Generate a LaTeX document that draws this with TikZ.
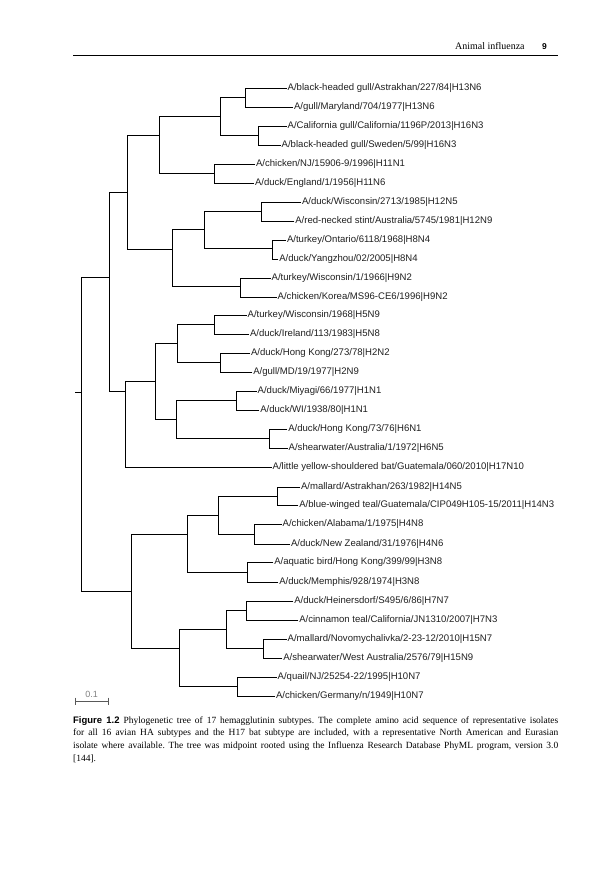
\documentclass[tikz,border=0pt]{standalone}
\usepackage{fontspec}
\setmainfont{Liberation Serif}
\setsansfont{Liberation Sans}
\frenchspacing
\begin{document}
\begin{tikzpicture}[x=1bp,y=-1bp,
  branch/.style={line width=0.85bp,black},
  leaf/.style={anchor=west,inner xsep=0.8bp,inner ysep=0pt,text height=7.4bp,text depth=2bp,
    font=\sffamily\fontsize{9.6}{11}\selectfont,text=black!88},
  capline/.style={anchor=base west,inner sep=0pt,font=\fontsize{9.5}{11}\selectfont}]
\useasboundingbox (0,0) rectangle (610,870);
% header
\node[anchor=base west,inner sep=0pt,font=\fontsize{10}{12}\selectfont] (hdr) at (455,49) {Animal influenza};
\node[anchor=base west,inner sep=0pt,font=\sffamily\fontsize{8.5}{12}\selectfont\bfseries] (pg) at (542,49) {9};
\coordinate (hl) at (73,55); \coordinate (hr) at (558,55);
\draw[line width=0.8bp] (hl) -- (hr);
% internal nodes
\coordinate (n12) at (245.3,97.5);
\coordinate (n34) at (258.7,135.5);
\coordinate (n1234) at (220,116.5);
\coordinate (n56) at (214.7,173.5);
\coordinate (nA) at (159.7,135.5);
\coordinate (n78) at (261.7,211);
\coordinate (n910) at (272.3,248.5);
\coordinate (nD) at (204.3,229.75);
\coordinate (nE) at (240,286.5);
\coordinate (nC) at (172.7,249);
\coordinate (nB) at (127.7,192);
\coordinate (n1314) at (214.3,324.5);
\coordinate (n1516) at (220,362.5);
\coordinate (nI) at (177.3,343.5);
\coordinate (n1718) at (236,400.5);
\coordinate (n1920) at (269.3,438.5);
\coordinate (nJ) at (176.3,419.5);
\coordinate (nH) at (155,381.5);
\coordinate (nG) at (125.3,391);
\coordinate (nF) at (109.3,277.5);
\coordinate (n2223) at (277.3,496);
\coordinate (n2425) at (254.3,534);
\coordinate (nN) at (218,515);
\coordinate (n2627) at (247.7,572);
\coordinate (nL) at (187.7,534.5);
\coordinate (n2829) at (246,610.5);
\coordinate (n3031) at (263.3,648.5);
\coordinate (nO) at (226,629.5);
\coordinate (n3233) at (237.7,686.5);
\coordinate (nM) at (179.3,648.5);
\coordinate (nK) at (131.7,591.5);
\coordinate (root) at (81.7,392);
\coordinate (rootstub) at (75,392);
% leaves
\node[leaf] (L1) at (286.7,88) {A/black-headed gull/Astrakhan/227/84|H13N6};
\node[leaf] (L2) at (293,107) {A/gull/Maryland/704/1977|H13N6};
\node[leaf] (L3) at (286.7,126) {A/California gull/California/1196P/2013|H16N3};
\node[leaf] (L4) at (280.7,145) {A/black-headed gull/Sweden/5/99|H16N3};
\node[leaf] (L5) at (255,164) {A/chicken/NJ/15906-9/1996|H11N1};
\node[leaf] (L6) at (254,183) {A/duck/England/1/1956|H11N6};
\node[leaf] (L7) at (301,202) {A/duck/Wisconsin/2713/1985|H12N5};
\node[leaf] (L8) at (294.3,221) {A/red-necked stint/Australia/5745/1981|H12N9};
\node[leaf] (L9) at (286,240) {A/turkey/Ontario/6118/1968|H8N4};
\node[leaf] (L10) at (278.3,259) {A/duck/Yangzhou/02/2005|H8N4};
\node[leaf] (L11) at (270.7,278) {A/turkey/Wisconsin/1/1966|H9N2};
\node[leaf] (L12) at (276.7,297) {A/chicken/Korea/MS96-CE6/1996|H9N2};
\node[leaf] (L13) at (246.7,315) {A/turkey/Wisconsin/1968|H5N9};
\node[leaf] (L14) at (249,334) {A/duck/Ireland/113/1983|H5N8};
\node[leaf] (L15) at (250,353) {A/duck/Hong Kong/273/78|H2N2};
\node[leaf] (L16) at (252.3,372) {A/gull/MD/19/1977|H2N9};
\node[leaf] (L17) at (256.7,391) {A/duck/Miyagi/66/1977|H1N1};
\node[leaf] (L18) at (259.3,410) {A/duck/WI/1938/80|H1N1};
\node[leaf] (L19) at (287.3,429) {A/duck/Hong Kong/73/76|H6N1};
\node[leaf] (L20) at (287.7,448) {A/shearwater/Australia/1/1972|H6N5};
\node[leaf] (L21) at (271.7,467) {A/little yellow-shouldered bat/Guatemala/060/2010|H17N10};
\node[leaf] (L22) at (300,487) {A/mallard/Astrakhan/263/1982|H14N5};
\node[leaf] (L23) at (298.3,505) {A/blue-winged teal/Guatemala/CIP049H105-15/2011|H14N3};
\node[leaf] (L24) at (281.7,524) {A/chicken/Alabama/1/1975|H4N8};
\node[leaf] (L25) at (290,544) {A/duck/New Zealand/31/1976|H4N6};
\node[leaf] (L26) at (273.3,562) {A/aquatic bird/Hong Kong/399/99|H3N8};
\node[leaf] (L27) at (278.3,582) {A/duck/Memphis/928/1974|H3N8};
\node[leaf] (L28) at (293.3,601) {A/duck/Heinersdorf/S495/6/86|H7N7};
\node[leaf] (L29) at (298.3,620) {A/cinnamon teal/California/JN1310/2007|H7N3};
\node[leaf] (L30) at (286.7,639) {A/mallard/Novomychalivka/2-23-12/2010|H15N7};
\node[leaf] (L31) at (282.3,658) {A/shearwater/West Australia/2576/79|H15N9};
\node[leaf] (L32) at (276.7,677) {A/quail/NJ/25254-22/1995|H10N7};
\node[leaf] (L33) at (275,696) {A/chicken/Germany/n/1949|H10N7};
% branches
\begin{scope}[branch]
\draw (L1.west) -| (n12); \draw (L2.west) -| (n12);
\draw (L3.west) -| (n34); \draw (L4.west) -| (n34);
\draw (L5.west) -| (n56); \draw (L6.west) -| (n56);
\draw (L7.west) -| (n78); \draw (L8.west) -| (n78);
\draw (L9.west) -| (n910); \draw (L10.west) -| (n910);
\draw (L11.west) -| (nE); \draw (L12.west) -| (nE);
\draw (L13.west) -| (n1314); \draw (L14.west) -| (n1314);
\draw (L15.west) -| (n1516); \draw (L16.west) -| (n1516);
\draw (L17.west) -| (n1718); \draw (L18.west) -| (n1718);
\draw (L19.west) -| (n1920); \draw (L20.west) -| (n1920);
\draw (L21.west) -| (nG);
\draw (L22.west) -| (n2223); \draw (L23.west) -| (n2223);
\draw (L24.west) -| (n2425); \draw (L25.west) -| (n2425);
\draw (L26.west) -| (n2627); \draw (L27.west) -| (n2627);
\draw (L28.west) -| (n2829); \draw (L29.west) -| (n2829);
\draw (L30.west) -| (n3031); \draw (L31.west) -| (n3031);
\draw (L32.west) -| (n3233); \draw (L33.west) -| (n3233);
\draw (n12) -| (n1234); \draw (n34) -| (n1234);
\draw (n1234) -| (nA); \draw (n56) -| (nA);
\draw (n78) -| (nD); \draw (n910) -| (nD);
\draw (nD) -| (nC); \draw (nE) -| (nC);
\draw (nA) -| (nB); \draw (nC) -| (nB);
\draw (n1314) -| (nI); \draw (n1516) -| (nI);
\draw (n1718) -| (nJ); \draw (n1920) -| (nJ);
\draw (nI) -| (nH); \draw (nJ) -| (nH);
\draw (nH) -| (nG);
\draw (nB) -| (nF); \draw (nG) -| (nF);
\draw (n2223) -| (nN); \draw (n2425) -| (nN);
\draw (nN) -| (nL); \draw (n2627) -| (nL);
\draw (n2829) -| (nO); \draw (n3031) -| (nO);
\draw (nO) -| (nM); \draw (n3233) -| (nM);
\draw (nL) -| (nK); \draw (nM) -| (nK);
\draw (nF) -| (root); \draw (nK) -| (root);
\draw (root) -- (rootstub);
\end{scope}
% scale bar
\coordinate (sb1) at (75,701); \coordinate (sb2) at (108.3,701);
\draw[black!65,line width=0.8bp] (sb1) -- (sb2)
  (75,697.5) -- (75,704.5) (108.3,697.5) -- (108.3,704.5);
\node[font=\sffamily\fontsize{9}{10}\selectfont,text=black!50,inner sep=0pt,anchor=base] (sbl) at (91.7,697) {0.1};
% caption
\node[capline] (c1) at (73,723) {\makebox[485bp][s]{{\sffamily\bfseries Figure~1.2}\hspace{4bp}Phylogenetic tree of 17 hemagglutinin subtypes. The complete amino acid sequence of representative isolates}};
\node[capline] (c2) at (73,735.7) {\makebox[485bp][s]{for all 16 avian HA subtypes and the H17 bat subtype are included, with a representative North American and Eurasian}};
\node[capline] (c3) at (73,748.4) {\makebox[485bp][s]{isolate where available. The tree was midpoint rooted using the Influenza Research Database PhyML program, version 3.0}};
\node[capline] (c4) at (73,761.1) {[144].};
\end{tikzpicture}
\end{document}
